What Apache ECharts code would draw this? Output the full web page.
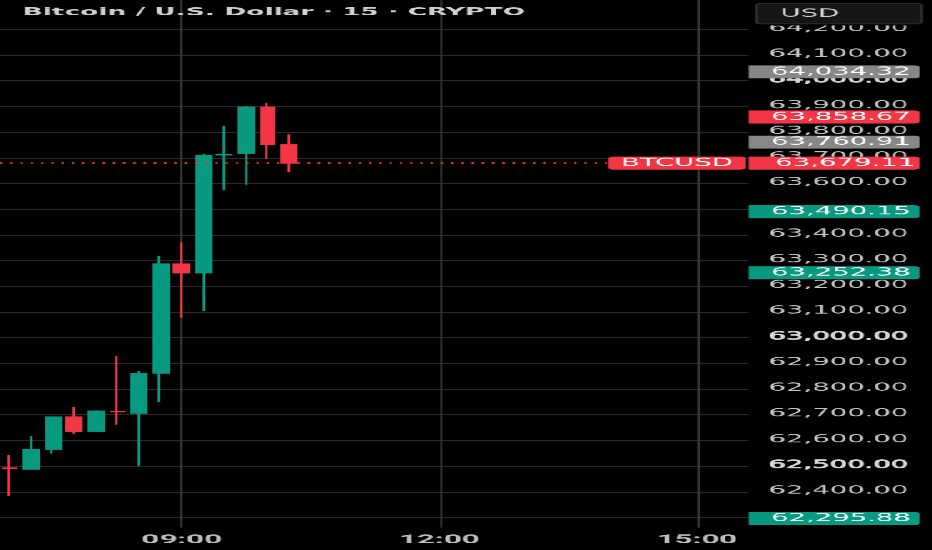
<!DOCTYPE html>
<html><head><meta charset="utf-8">
<script src="https://cdn.jsdelivr.net/npm/echarts@6/dist/echarts.min.js"></script>
<style>
html,body{margin:0;padding:0;background:#000;overflow:hidden;width:932px;height:550px}
#wrap{width:932px;height:550px;overflow:hidden;background:#000}
#chart{width:373px;height:550px;transform:scaleX(2.49866);transform-origin:0 0}
</style></head><body><div id="wrap"><div id="chart"></div></div>
<script>
// ---- data ----
const titleText = 'Bitcoin / U.S. Dollar · 15 · CRYPTO';
const times = ['07:00','07:15','07:30','07:45','08:00','08:15','08:30','08:45','09:00','09:15','09:30','09:45','10:00','10:15'];
const open  = [62493, 62488, 62565, 62691, 62635, 62713, 62706, 62862, 63287, 63252, 63711, 63717, 63897, 63751];
const close = [62491, 62565, 62691, 62635, 62714, 62711, 62861, 63287, 63252, 63708, 63714, 63897, 63751, 63679.11];
const low   = [62384, 62486, 62549, 62626, 62632, 62661, 62501, 62749, 63077, 63104, 63574, 63595, 63696, 63644];
const high  = [62543, 62617, 62691, 62730, 62717, 62929, 62870, 63318, 63371, 63716, 63823, 63901, 63913, 63791];
const levels = [64034.32, 63858.67, 63760.91, 63490.15, 63252.38, 62295.88];
const levelKinds = ['gray', 'down', 'gray', 'up', 'up', 'up'];
const symbolName = 'BTCUSD';
const currency = 'USD';
const xTickLabels = ['09:00', '12:00', '15:00'];
const yGridValues = [62300, 62400, 62500, 62600, 62700, 62800, 62900, 63000, 63100, 63200,
                     63300, 63400, 63500, 63600, 63700, 63800, 63900, 64000, 64100, 64200];
// tick labels that are not fully covered by a price box
const yTickLabels = [62400, 62500, 62600, 62700, 62800, 62900, 63000, 63100, 63200,
                     63300, 63400, 63600, 63700, 63800, 63900, 64000, 64100, 64200];

// ---- helpers / styles ----
const UP = '#089981', DOWN = '#f23645', GRAY = '#878787';
const kindColor = {up: UP, down: DOWN, gray: GRAY};
const FONT = 'DejaVu Sans';
const toMin = s => { const p = s.split(':'); return (+p[0]) * 60 + (+p[1]); };
const pad2 = n => (n < 10 ? '0' : '') + n;
const minToStr = m => pad2(Math.floor(m / 60)) + ':' + pad2(Math.round(m % 60));
const fmt = v => {
  const s = Number(v).toFixed(2); const parts = s.split('.');
  return parts[0].replace(/\B(?=(\d{3})+(?!\d))/g, ',') + '.' + parts[1];
};
const last = close[close.length - 1];

const chart = echarts.init(document.getElementById('chart'), null, {renderer: 'canvas', devicePixelRatio: 2.5});
const labelBox = (v, col) => ({
  show: true, position: 'end', distance: [0, 0], formatter: fmt(v),
  backgroundColor: col, color: '#ffffff', fontSize: 11, fontFamily: FONT,
  width: 57, height: 13, lineHeight: 13, padding: [0, 2.4, 0, 9], borderRadius: [0, 2, 2, 0]
});

chart.setOption({
  animation: false,
  backgroundColor: '#000000',
  title: {text: titleText, left: 9, top: 7, padding: 0, zlevel: 1,
    textStyle: {color: '#cfcfcf', fontSize: 10.6, fontWeight: 'bold', fontFamily: FONT}},
  grid: {left: 0, right: 73.64, top: 0, bottom: 22.5},
  xAxis: {
    type: 'value', min: 413, max: 935.9, zlevel: 0, z: 0,
    axisLine: {show: false},
    axisTick: {show: false, customValues: xTickLabels.map(toMin)},
    splitLine: {show: true, lineStyle: {color: '#363636', width: 1}},
    axisLabel: {customValues: xTickLabels.map(toMin), formatter: v => minToStr(v), margin: 6,
      color: '#bdbdbd', fontSize: 12.5, fontWeight: 'bold', fontFamily: 'Roboto'}
  },
  yAxis: {
    type: 'value', position: 'right', min: 62261, max: 64314, scale: true, zlevel: 0, z: 0,
    axisLine: {show: false},
    axisTick: {show: false, customValues: yGridValues},
    splitLine: {show: true, lineStyle: {color: '#2a2a2a', width: 1}},
    axisLabel: {customValues: yTickLabels, margin: 8, padding: [0, 0, 2, 0],
      formatter: v => (v % 500 === 0 ? '{b|' : '{r|') + fmt(v) + '}',
      rich: {
        r: {color: '#c4c4c4', fontSize: 11, fontFamily: FONT},
        b: {color: '#d6d6d6', fontSize: 11, fontFamily: FONT, textBorderColor: '#d6d6d6', textBorderWidth: 0.55}
      }}
  },
  graphic: [
    {type: 'rect', zlevel: 2, z: 99, shape: {x: 300, y: 22, width: 73, height: 3.4},
      style: {fill: '#000000'}},
    {type: 'rect', zlevel: 2, z: 100, shape: {x: 302.6, y: 3.3, width: 66, height: 20.6, r: 2},
      style: {fill: '#161616', stroke: '#2e2e2e', lineWidth: 1}},
    {type: 'text', zlevel: 2, z: 101, x: 312.2, y: 13.8,
      style: {text: currency, fill: '#d1d1d1', font: '11px "DejaVu Sans"', verticalAlign: 'middle'}}
  ],
  series: [{
    type: 'candlestick', zlevel: 1, z: 10,
    data: times.map((t, i) => [toMin(t), open[i], close[i], low[i], high[i]]),
    encode: {x: 0, y: [1, 2, 3, 4]},
    barWidth: 6.3,
    itemStyle: {color: UP, color0: DOWN, borderColor: UP, borderColor0: DOWN, borderWidth: 1},
    markLine: {
      silent: true, symbol: ['none', 'none'], animation: false, zlevel: 1, z: 50,
      data: levels.map((v, i) => ({
        yAxis: v, lineStyle: {color: 'rgba(0,0,0,0)', width: 0},
        label: labelBox(v, kindColor[levelKinds[i]])
      })).concat([{
        yAxis: last,
        lineStyle: {color: '#ff2a40', type: [1, 3.1], width: 1.8, opacity: 1},
        label: {show: true, position: 'end', distance: [-56.1, 0],
          formatter: '{n|' + symbolName + '}{g|}{v|' + fmt(last) + '}',
          rich: {
            n: {backgroundColor: DOWN, color: '#fff', width: 55.1, align: 'center', height: 13, lineHeight: 13, fontSize: 11, fontFamily: FONT, borderRadius: 2},
            g: {width: 1, height: 13},
            v: {backgroundColor: DOWN, color: '#fff', width: 59.4, align: 'left', height: 13, lineHeight: 13, fontSize: 11, fontFamily: FONT, padding: [0, 0, 0, 9], borderRadius: [0, 2, 2, 0]}
          }}
      }])
    }
  }]
});
</script></body></html>
